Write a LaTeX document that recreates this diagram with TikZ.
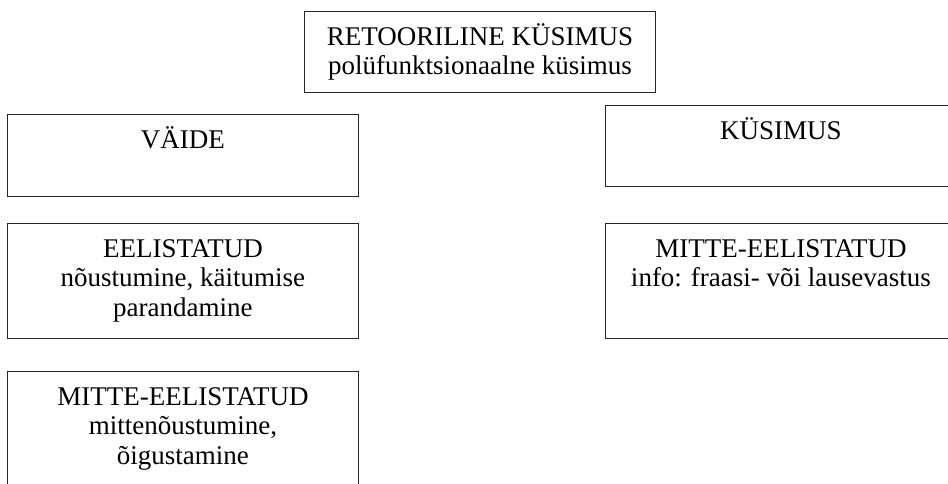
\documentclass[tikz,border=0pt]{standalone}
\usepackage{fontspec}
\setmainfont{Liberation Serif}
\newcommand\boxtxt[2]{\parbox[c][#1pt][t]{351pt}{\centering\fontsize{27}{29.5}\selectfont\rule{0pt}{34pt}#2}}
\begin{document}
\begin{tikzpicture}[x=1pt,y=-1pt,
  box/.style={draw=black!85, line width=0.9pt, anchor=north west, inner sep=0pt}]
\useasboundingbox (0,0) rectangle (948,483);
\clip (0,0) rectangle (948,483);
\node[box] (top) at (304,11) {\boxtxt{81}{RETOORILINE KÜSIMUS\\polüfunktsionaalne küsimus}};
\node[box] (vaide) at (7,114) {\boxtxt{82}{VÄIDE}};
\node[box] (kys) at (605,105) {\boxtxt{81}{KÜSIMUS}};
\node[box] (eel) at (7,223) {\boxtxt{115}{EELISTATUD\\nõustumine, käitumise\\parandamine}};
\node[box] (mitteR) at (605,223) {\boxtxt{115}{MITTE-EELISTATUD\\info: fraasi- või lausevastus}};
\node[box] (mitteL) at (7,371) {\boxtxt{125}{MITTE-EELISTATUD\\mittenõustumine,\\õigustamine}};
\end{tikzpicture}
\end{document}
